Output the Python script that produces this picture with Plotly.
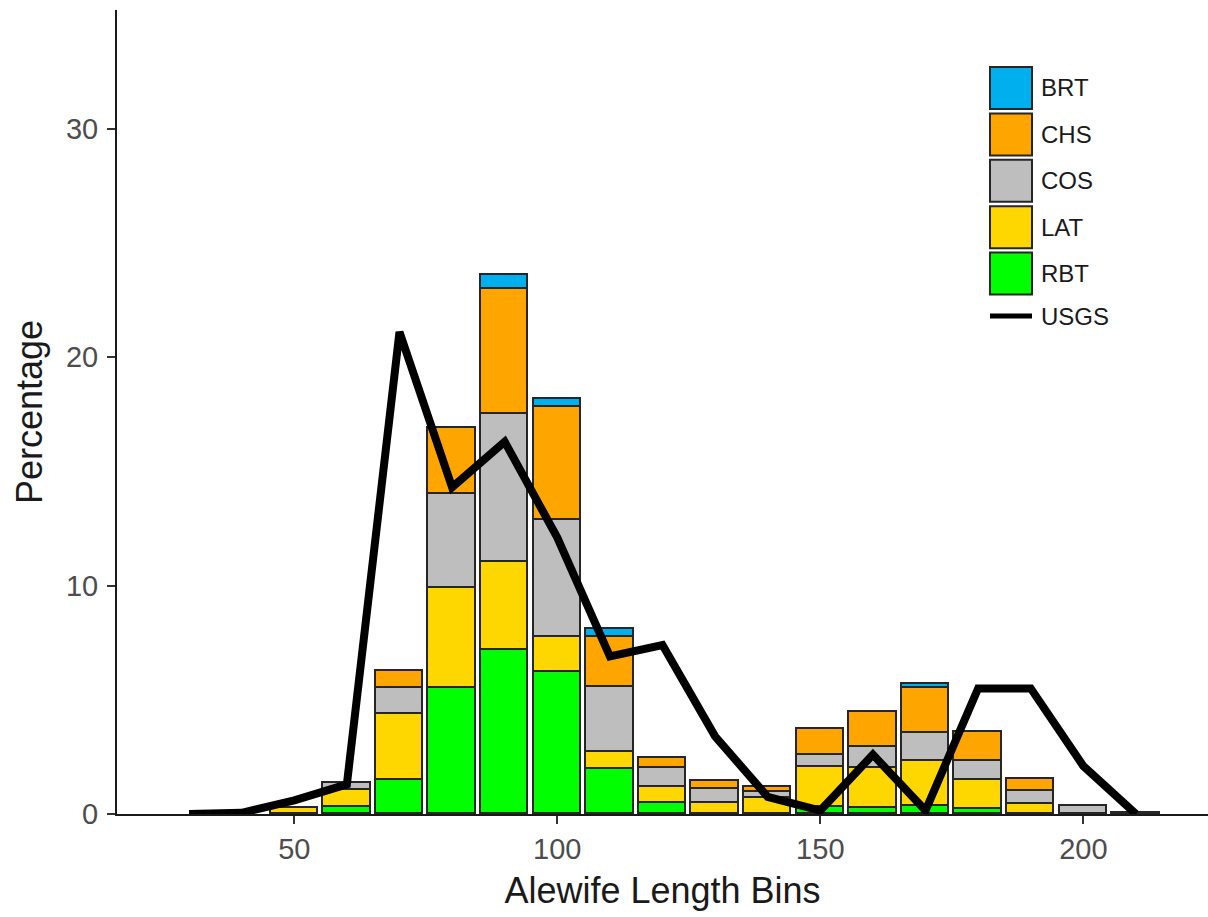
import plotly.graph_objects as go

# ---- data ----
bins = [50, 60, 70, 80, 90, 100, 110, 120, 130, 140, 150, 160, 170, 180, 190, 200, 210]
RBT = [None, 0.3, 1.5, 5.5, 7.2, 6.2, 1.95, 0.5, None, None, 0.3, 0.25, 0.35, 0.2, None, None, None]
LAT = [0.25, 0.75, 2.9, 4.4, 3.85, 1.55, 0.75, 0.7, 0.5, 0.7, 1.75, 1.75, 1.95, 1.3, 0.45, None, None]
COS = [None, 0.3, 1.1, 4.1, 6.45, 5.1, 2.85, 0.8, 0.6, 0.25, 0.55, 0.95, 1.25, 0.8, 0.55, 0.35, 0.05]
CHS = [None, None, 0.75, 2.9, 5.5, 4.95, 2.2, 0.45, 0.35, 0.25, 1.1, 1.5, 1.95, 1.3, 0.55, None, None]
BRT = [None, None, None, None, 0.6, 0.35, 0.35, None, None, None, None, None, 0.2, None, None, None, None]

usgs_x = [30, 40, 50, 60, 70, 80, 90, 100, 110, 120, 130, 140, 150, 160, 170, 180, 190, 200, 210]
usgs_y = [0.0, 0.05, 0.6, 1.3, 21.1, 14.3, 16.3, 12.1, 6.9, 7.4, 3.4, 0.75, 0.15, 2.6, 0.15, 5.5, 5.5, 2.1, 0.0]

species = ["BRT", "CHS", "COS", "LAT", "RBT"]
colors = {"BRT": "#00B0EE", "CHS": "#FFA500", "COS": "#BEBEBE", "LAT": "#FFD700", "RBT": "#00FF00"}
values = {"BRT": BRT, "CHS": CHS, "COS": COS, "LAT": LAT, "RBT": RBT}

FONT = "Liberation Sans, Arial, sans-serif"
W, H = 1208, 917
ML, MR, MT, MB = 117, 0, 10, 103
PW, PH = W - ML - MR, H - MT - MB

fig = go.Figure()
for sp in ["RBT", "LAT", "COS", "CHS", "BRT"]:
    fig.add_trace(go.Bar(
        x=bins, y=values[sp], name=sp, width=9,
        marker=dict(color=colors[sp], line=dict(color="#262626", width=1.6)),
        showlegend=False,
    ))
fig.add_trace(go.Scatter(
    x=usgs_x, y=usgs_y, mode="lines", name="USGS",
    line=dict(color="black", width=8), showlegend=False,
))

# ---- manual legend (ggplot-style large keys) ----
def px2paper(px, py):
    return (px - ML) / PW, 1 - (py - MT) / PH

shapes = []
annotations = []
key_x0, key_x1 = 990, 1032
top0, step, size = 67, 46.4, 42
for i, sp in enumerate(species):
    y0 = top0 + i * step
    a = px2paper(key_x0, y0)
    b = px2paper(key_x1, y0 + size)
    shapes.append(dict(type="rect", xref="paper", yref="paper", x0=a[0], x1=b[0], y0=b[1], y1=a[1],
                       fillcolor=colors[sp], line=dict(color="#262626", width=2)))
    c = px2paper(1039, y0 + size / 2)
    annotations.append(dict(xref="paper", yref="paper", x=c[0], y=c[1], text=sp, showarrow=False,
                            xanchor="left", yanchor="middle", font=dict(family=FONT, size=24, color="#1a1a1a")))
ly = top0 + 5 * step + size / 2 - 4
a = px2paper(key_x0, ly)
b = px2paper(key_x1, ly)
shapes.append(dict(type="line", xref="paper", yref="paper", x0=a[0], x1=b[0], y0=a[1], y1=b[1],
                   line=dict(color="black", width=5)))
c = px2paper(1039, ly)
annotations.append(dict(xref="paper", yref="paper", x=c[0], y=c[1], text="USGS", showarrow=False,
                        xanchor="left", yanchor="middle", font=dict(family=FONT, size=24, color="#1a1a1a")))

fig.update_layout(
    width=W, height=H,
    margin=dict(l=ML, r=MR, t=MT, b=MB),
    barmode="stack", bargap=0,
    plot_bgcolor="white", paper_bgcolor="white",
    font=dict(family=FONT),
    shapes=shapes, annotations=annotations,
    xaxis=dict(range=[16.3, 223.7], tickvals=[50, 100, 150, 200], showgrid=False, zeroline=False,
               showline=True, linecolor="#1a1a1a", linewidth=2, ticks="outside", ticklen=8,
               tickcolor="#333333", tickwidth=1.5, tickfont=dict(size=29, color="#4D4D4D", family=FONT),
               title=dict(text="Alewife Length Bins", font=dict(size=36, color="#1a1a1a", family=FONT), standoff=14)),
    yaxis=dict(range=[0, 35.2], tickvals=[0, 10, 20, 30], showgrid=False, zeroline=False,
               showline=True, linecolor="#1a1a1a", linewidth=2, ticks="outside", ticklen=8,
               ticklabelstandoff=3,
               tickcolor="#333333", tickwidth=1.5, tickfont=dict(size=29, color="#4D4D4D", family=FONT),
               title=dict(text="Percentage", font=dict(size=36, color="#1a1a1a", family=FONT), standoff=12)),
)

fig.write_html("out.html")
